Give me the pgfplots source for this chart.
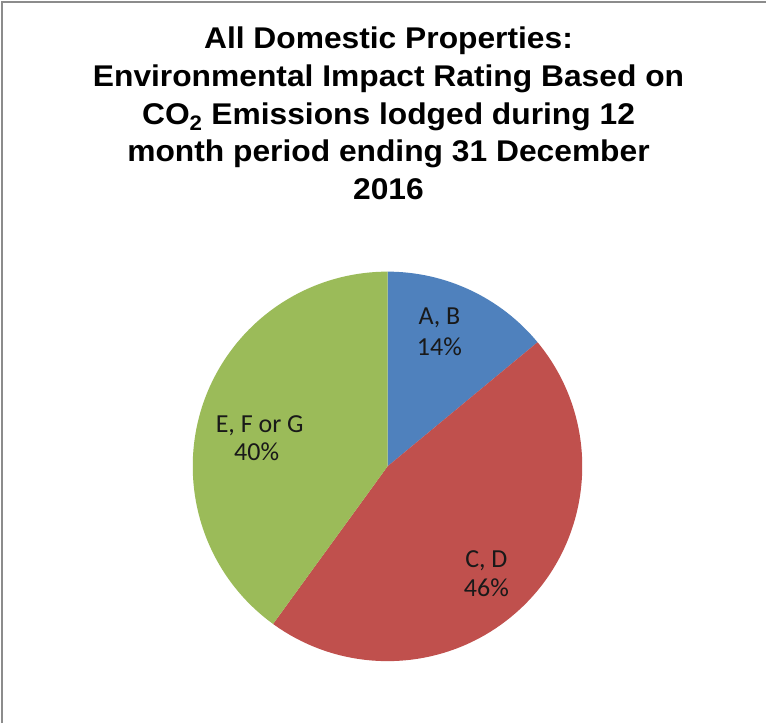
\documentclass[border=0pt]{standalone}
\usepackage{pgfplots}
\pgfplotsset{compat=1.18}
\usepackage{fontspec}
\setmainfont{Carlito}
\newfontfamily\titlefont[FakeStretch=1.06]{Liberation Sans Bold}

\definecolor{sliceblue}{HTML}{4F81BD}
\definecolor{slicered}{HTML}{C0504D}
\definecolor{slicegreen}{HTML}{9BBB59}
\definecolor{frame}{HTML}{8C8C8C}

% pie centre and radius in px of the 767x724 reference (y measured up)
\def\cx{388}
\def\cy{257}
\def\rad{195bp}

\begin{document}
\begin{tikzpicture}
\begin{axis}[
    width=767bp, height=724bp,
    scale only axis,
    xmin=0, xmax=767,
    ymin=0, ymax=724,
    hide axis,
    clip=false,
]
\fill[white] (axis cs:0,0) rectangle (axis cs:767,724);
\draw[frame, line width=2bp] (axis cs:2,0) -- (axis cs:2,722) -- (axis cs:767,722);

% shares (%): A,B = 14; C,D = 46; E,F or G = 40 -- clockwise from 12 o'clock
\fill[sliceblue] (axis cs:\cx,\cy) -- ++(90:\rad)
    arc[start angle=90, end angle={90-3.6*14}, radius=\rad] -- cycle;
\fill[slicered] (axis cs:\cx,\cy) -- ++({90-3.6*14}:\rad)
    arc[start angle={90-3.6*14}, end angle={90-3.6*(14+46)}, radius=\rad] -- cycle;
\fill[slicegreen] (axis cs:\cx,\cy) -- ++({90-3.6*(14+46)}:\rad)
    arc[start angle={90-3.6*(14+46)}, end angle={90-3.6*(14+46+40)}, radius=\rad] -- cycle;

% title
\begin{scope}[every node/.style={anchor=base, inner sep=0pt, font=\titlefont\fontsize{30bp}{36bp}\selectfont}]
\node at (axis cs:389,675) {All Domestic Properties:};
\node at (axis cs:389,637.3) {Environmental Impact Rating Based on};
\node at (axis cs:389,599.6) {CO\textsubscript{2} Emissions lodged during 12};
\node at (axis cs:389,561.9) {month period ending 31 December};
\node at (axis cs:389,524.2) {2016};
\end{scope}

% slice labels
\begin{scope}[every node/.style={anchor=base, inner sep=0pt, font=\fontsize{26bp}{31bp}\selectfont, text=black!90}]
\node at (axis cs:440,399) {A, B};
\node at (axis cs:440,368) {14\%};
\node at (axis cs:487,156) {C, D};
\node at (axis cs:487,127) {46\%};
\node at (axis cs:260,291) {E, F or G};
\node at (axis cs:257,263) {40\%};
\end{scope}
\end{axis}
\end{tikzpicture}
\end{document}
